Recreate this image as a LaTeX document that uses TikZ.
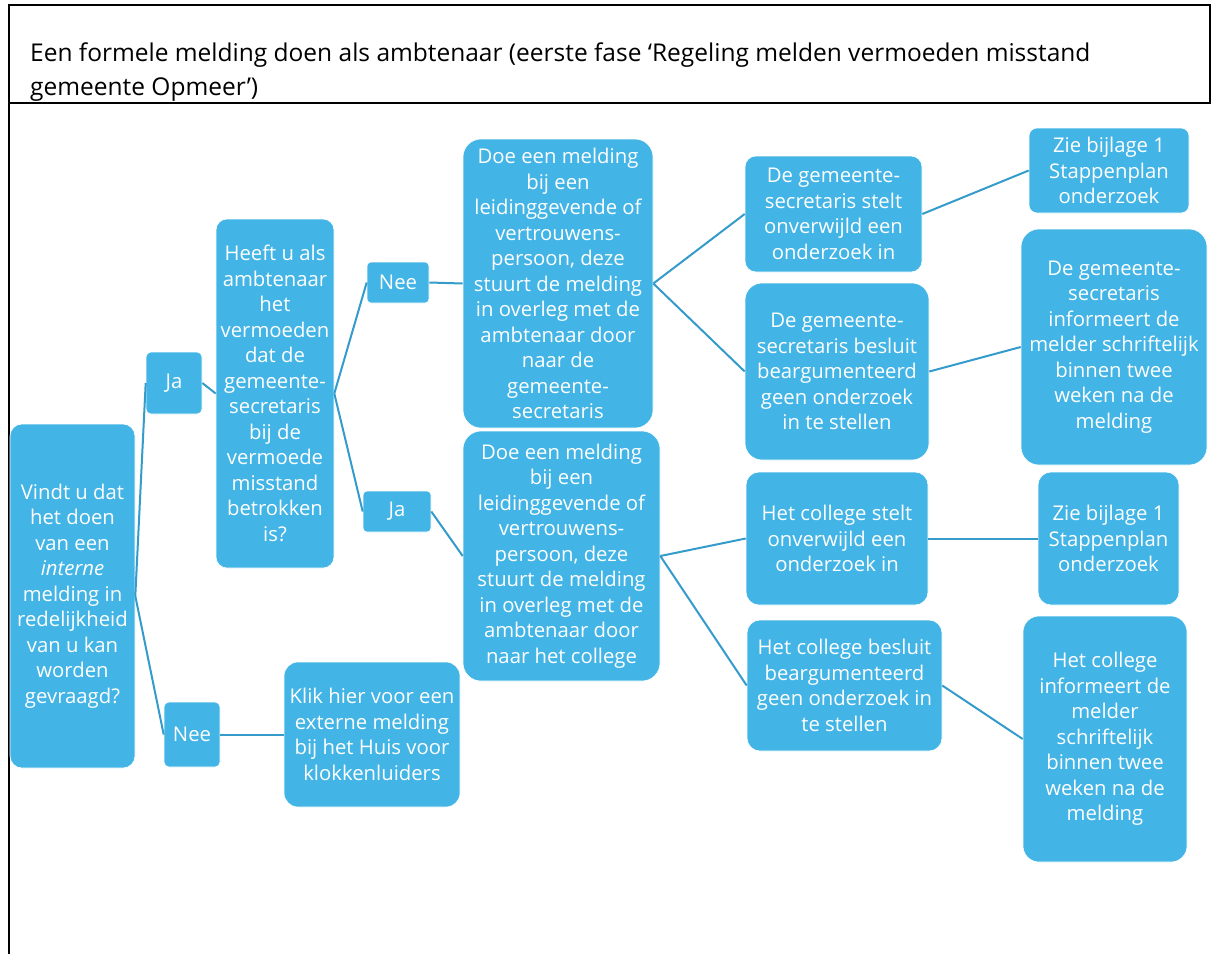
\documentclass[tikz,border=0pt]{standalone}
\usepackage{fontspec}
\setmainfont{Open Sans}
\definecolor{boxblue}{RGB}{66,180,230}
\definecolor{linkblue}{RGB}{52,155,202}
\begin{document}
\begin{tikzpicture}[x=1pt,y=-1pt,
  box/.style={fill=boxblue, draw=white, line width=0.6pt, text=white, align=center,
    inner sep=0pt, font=\fontsize{20.3}{25.5}\selectfont},
  link/.style={draw=linkblue, line width=2pt},
  titletext/.style={anchor=base west, inner sep=0pt, font=\fontsize{24.5}{34}\selectfont}]
\useasboundingbox (0,0) rectangle (1214,954);
% frame
\draw[line width=1.5pt] (9,5) rectangle (1210,103);
\draw[line width=2pt] (9,103) -- (9,954);
\node[titletext] (t1) at (30,61) {Een formele melding doen als ambtenaar (eerste fase ‘Regeling melden vermoeden misstand};
\node[titletext] (t2) at (30,95) {gemeente Opmeer’)};
% boxes
\node[box, minimum width=125pt, minimum height=344pt, rounded corners=12pt] (root) at (72.5,596)
  {Vindt u dat\\het doen\\van een\\\textit{interne}\\melding in\\redelijkheid\\van u kan\\worden\\gevraagd?};
\node[box, minimum width=56pt, minimum height=62pt, rounded corners=5pt] (ja1) at (174,383) {Ja};
\node[box, minimum width=56pt, minimum height=65pt, rounded corners=5pt] (nee1) at (192,734.5) {Nee};
\node[box, minimum width=118pt, minimum height=349pt, rounded corners=11pt] (heeft) at (275,393.5)
  {Heeft u als\\ambtenaar\\het\\vermoeden\\dat de\\gemeente-\\secretaris\\bij de\\vermoede\\misstand\\betrokken\\is?};
\node[box, minimum width=176pt, minimum height=145pt, rounded corners=14pt] (klik) at (372,734.5)
  {Klik hier voor een\\externe melding\\bij het Huis voor\\klokkenluiders};
\node[box, minimum width=62pt, minimum height=41pt, rounded corners=4pt] (nee2) at (398,282.5) {Nee};
\node[box, minimum width=68pt, minimum height=41pt, rounded corners=4pt] (ja2) at (397,511.5) {Ja};
\node[box, minimum width=190pt, minimum height=289pt, rounded corners=18pt] (doe1) at (558,283.5)
  {Doe een melding\\bij een\\leidinggevende of\\vertrouwens-\\persoon, deze\\stuurt de melding\\in overleg met de\\ambtenaar door\\naar de\\gemeente-\\secretaris};
\node[box, minimum width=197pt, minimum height=250pt, rounded corners=18pt] (doe2) at (561.5,556)
  {Doe een melding\\bij een\\leidinggevende of\\vertrouwens-\\persoon, deze\\stuurt de melding\\in overleg met de\\ambtenaar door\\naar het college};
\node[box, minimum width=177pt, minimum height=116pt, rounded corners=11pt] (gs1) at (833.5,214)
  {De gemeente-\\secretaris stelt\\onverwijld een\\onderzoek in};
\node[box, minimum width=184pt, minimum height=177pt, rounded corners=17pt] (gs2) at (837,371.5)
  {De gemeente-\\secretaris besluit\\beargumenteerd\\geen onderzoek\\in te stellen};
\node[box, minimum width=160pt, minimum height=85pt, rounded corners=8pt] (zie1) at (1109,170.5)
  {Zie bijlage 1\\Stappenplan\\onderzoek};
\node[box, minimum width=186pt, minimum height=236pt, rounded corners=18pt] (gsi) at (1114,347)
  {De gemeente-\\secretaris\\informeert de\\melder schriftelijk\\binnen twee\\weken na de\\melding};
\node[box, minimum width=182pt, minimum height=133pt, rounded corners=13pt] (cs) at (837,538.5)
  {Het college stelt\\onverwijld een\\onderzoek in};
\node[box, minimum width=141pt, minimum height=133pt, rounded corners=13pt] (zie2) at (1108.5,538.5)
  {Zie bijlage 1\\Stappenplan\\onderzoek};
\node[box, minimum width=195pt, minimum height=131pt, rounded corners=13pt] (cb) at (844.5,685.5)
  {Het college besluit\\beargumenteerd\\geen onderzoek in\\te stellen};
\node[box, minimum width=164pt, minimum height=246pt, rounded corners=16pt] (ci) at (1105,739)
  {Het college\\informeert de\\melder\\schriftelijk\\binnen twee\\weken na de\\melding};
% connectors
\draw[link] (root.east) -- (ja1.west);
\draw[link] (root.east) -- (nee1.west);
\draw[link] (ja1.east) -- (heeft.west);
\draw[link] (nee1.east) -- (klik.west);
\draw[link] (heeft.east) -- (nee2.west);
\draw[link] (heeft.east) -- (ja2.west);
\draw[link] (nee2.east) -- (doe1.west);
\draw[link] (ja2.east) -- (doe2.west);
\draw[link] (doe1.east) -- (gs1.west);
\draw[link] (doe1.east) -- (gs2.west);
\draw[link] (gs1.east) -- (zie1.west);
\draw[link] (gs2.east) -- (gsi.west);
\draw[link] (doe2.east) -- (cs.west);
\draw[link] (doe2.east) -- (cb.west);
\draw[link] (cs.east) -- (zie2.west);
\draw[link] (cb.east) -- (ci.west);
\end{tikzpicture}
\end{document}
